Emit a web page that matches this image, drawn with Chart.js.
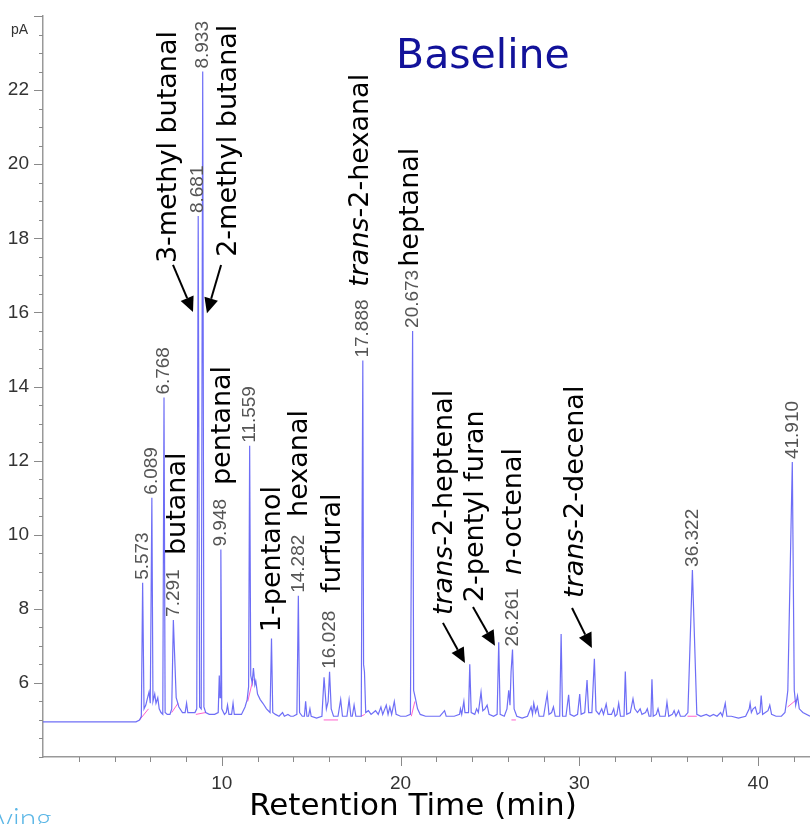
<!DOCTYPE html>
<html>
<head>
<meta charset="utf-8">
<script src="https://cdn.jsdelivr.net/npm/chart.js@4.4.1/dist/chart.umd.min.js"></script>
<style>
html,body{margin:0;padding:0;background:#fff;}
#wrap{width:810px;height:824px;position:relative;}
</style>
</head>
<body>
<div id="wrap"><canvas id="c" width="810" height="824"></canvas></div>
<script>
// ---- Chromatogram trace (retention time, min / signal, pA) ----
const times = [
 0, 5.2, 5.4, 5.5, 5.573, 5.65, 5.75, 5.85, 5.93, 6.0, 6.089, 6.15, 6.25, 6.32, 6.42, 6.5, 6.6, 6.7, 6.768, 6.83,
 6.95, 7.1, 7.2, 7.291, 7.35, 7.45, 7.6, 7.8, 7.95, 8.03, 8.1, 8.3, 8.5, 8.6, 8.681, 8.76, 8.85, 8.933, 9.0, 9.1,
 9.3, 9.6, 9.8, 9.86, 9.9, 9.948, 10.0, 10.15, 10.25, 10.32, 10.4, 10.55, 10.63, 10.7, 10.95, 11.1, 11.3, 11.42, 11.5, 11.559,
 11.62, 11.7, 11.77, 11.85, 11.9, 12.0, 12.15, 12.3, 12.5, 12.7, 12.78, 12.85, 13.0, 13.2, 13.4, 13.5, 13.7, 13.85, 14.0, 14.2,
 14.282, 14.35, 14.5, 14.62, 14.69, 14.76, 14.85, 14.93, 15.0, 15.3, 15.6, 15.72, 15.85, 15.95, 16.028, 16.12, 16.25, 16.5, 16.65, 16.75,
 17.0, 17.12, 17.22, 17.3, 17.4, 17.5, 17.8, 17.888, 17.93, 17.98, 18.05, 18.2, 18.35, 18.6, 18.75, 18.9, 19.0, 19.2, 19.3, 19.4,
 19.5, 19.65, 19.75, 20.0, 20.3, 20.55, 20.673, 20.73, 20.82, 20.95, 21.1, 21.4, 21.8, 22.2, 22.46, 22.55, 23.0, 23.3, 23.35, 23.42,
 23.54, 23.6, 23.8, 23.87, 23.95, 24.15, 24.25, 24.35, 24.5, 24.6, 24.72, 24.84, 24.95, 25.2, 25.4, 25.49, 25.57, 25.8, 25.95, 26.05,
 26.12, 26.18, 26.261, 26.35, 26.5, 26.8, 27.1, 27.3, 27.38, 27.45, 27.55, 27.65, 27.75, 28.0, 28.2, 28.3, 28.45, 28.55, 28.65, 28.9,
 28.98, 29.06, 29.25, 29.4, 29.48, 29.7, 29.9, 30.02, 30.1, 30.3, 30.43, 30.52, 30.7, 30.84, 30.93, 31.1, 31.25, 31.35, 31.5, 31.6,
 31.8, 31.92, 32.0, 32.1, 32.2, 32.3, 32.5, 32.57, 32.65, 32.85, 33.0, 33.1, 33.25, 33.4, 33.5, 33.7, 33.8, 33.9, 34.0, 34.06,
 34.13, 34.3, 34.4, 34.5, 34.8, 34.9, 35.0, 35.2, 35.3, 35.4, 35.55, 35.65, 35.9, 36.07, 36.322, 36.57, 36.8, 37.1, 37.3, 37.5,
 37.7, 37.9, 38.0, 38.16, 38.25, 38.5, 38.9, 39.3, 39.5, 39.55, 39.62, 39.72, 39.84, 39.95, 40.1, 40.17, 40.25, 40.4, 40.55, 40.65,
 40.75, 41.0, 41.3, 41.5, 41.6, 41.66, 41.91, 42.02, 42.1, 42.2, 42.3, 42.5, 42.9
];
const signal = [
 4.95, 4.95, 5.0, 5.1, 8.7, 5.3, 5.4, 5.6, 5.75, 5.45, 11.0, 5.5, 5.7, 5.45, 5.6, 5.3, 5.2, 5.15, 13.7, 5.2,
 5.15, 5.15, 5.3, 7.7, 6.9, 5.6, 5.35, 5.2, 5.2, 5.45, 5.2, 5.2, 5.2, 5.3, 18.6, 5.35, 5.3, 22.5, 5.35, 5.2,
 5.15, 5.15, 5.2, 6.2, 5.6, 9.6, 5.3, 5.15, 5.2, 5.4, 5.15, 5.15, 5.45, 5.15, 5.15, 5.15, 5.35, 5.55, 5.9, 12.4,
 6.2, 6.0, 6.4, 5.95, 6.05, 5.7, 5.55, 5.45, 5.3, 5.2, 7.2, 5.2, 5.15, 5.1, 5.2, 5.1, 5.15, 5.1, 5.1, 5.15,
 8.35, 5.2, 5.1, 5.1, 5.5, 5.1, 5.1, 5.3, 5.1, 5.05, 5.1, 6.15, 5.3, 5.5, 6.3, 5.3, 5.1, 5.1, 5.55, 5.1,
 5.1, 5.55, 5.1, 5.1, 5.4, 5.1, 5.1, 14.7, 6.5, 6.3, 5.2, 5.25, 5.15, 5.25, 5.15, 5.35, 5.15, 5.4, 5.15, 5.35,
 5.15, 5.5, 5.15, 5.1, 5.1, 5.15, 15.5, 5.8, 5.6, 5.3, 5.15, 5.1, 5.1, 5.1, 5.25, 5.1, 5.1, 5.15, 5.3, 5.15,
 5.5, 5.2, 5.2, 6.5, 5.2, 5.15, 5.3, 5.2, 5.75, 5.25, 5.3, 5.4, 5.15, 5.1, 5.15, 7.1, 5.15, 5.1, 5.3, 5.8,
 5.4, 6.3, 6.9, 5.3, 5.1, 5.05, 5.1, 5.35, 5.15, 5.45, 5.2, 5.35, 5.1, 5.1, 5.7, 5.15, 5.2, 5.35, 5.1, 5.1,
 7.32, 5.1, 5.1, 5.68, 5.15, 5.1, 5.15, 5.7, 5.15, 5.2, 6.08, 5.2, 5.2, 6.65, 5.25, 5.15, 5.3, 5.15, 5.43, 5.15,
 5.15, 5.3, 5.1, 5.15, 5.45, 5.1, 5.1, 6.31, 5.15, 5.2, 5.57, 5.3, 5.2, 5.3, 5.15, 5.2, 5.3, 5.1, 5.1, 6.1,
 5.1, 5.15, 5.3, 5.1, 5.1, 5.48, 5.1, 5.15, 5.25, 5.1, 5.25, 5.1, 5.1, 5.2, 9.05, 5.15, 5.1, 5.15, 5.1, 5.15,
 5.1, 5.2, 5.1, 5.45, 5.1, 5.1, 5.05, 5.1, 5.3, 5.45, 5.2, 5.3, 5.35, 5.15, 5.2, 5.66, 5.15, 5.2, 5.25, 5.4,
 5.15, 5.1, 5.1, 5.2, 5.55, 5.8, 11.96, 5.8, 5.4, 5.65, 5.3, 5.2, 5.1
];

// ---- Integration baselines (pink), null = break ----
const baseT = [5.4, 5.9, null, 7.2, 7.55, null, 8.55, 9.1, null, 11.45, 11.75, null, 15.7, 16.5, null, 17.8, 18.0, null, 20.6, 20.8, null, 26.2, 26.45, null, 36.05, 36.57, null, 41.65, 42.15];
const baseY = [5.0, 5.3, null, 5.2, 5.45, null, 5.15, 5.2, null, 5.5, 6.1, null, 5.0, 5.0, null, 5.1, 5.15, null, 5.1, 5.5, null, 5.0, 5.0, null, 5.1, 5.1, null, 5.35, 5.55];

// ---- Retention-time peak labels ----
const rtLabels = ['5.573','6.089','6.768','7.291','8.681','8.933','9.948','11.559','14.282','16.028','17.888','20.673','26.261','36.322','41.910'];
const rtApexTimes = [5.573, 6.089, 6.768, 7.291, 8.681, 8.933, 9.948, 11.559, 14.282, 16.028, 17.888, 20.673, 26.261, 36.322, 41.91];

// ---- Compound annotations (text baseline time, start level) ----
const compoundNames = ['3-methyl butanal','2-methyl butanal','butanal','pentanal','1-pentanol','hexanal','furfural','trans-2-hexanal','heptanal','trans-2-heptenal','2-pentyl furan','n-octenal','trans-2-decenal'];
const compoundItalic = ['','','','','','','','trans','','trans','','n','trans'];
const compoundT = [7.43, 10.79, 7.94, 10.46, 13.26, 14.77, 16.61, 18.18, 20.97, 22.87, 24.61, 26.73, 30.2];
const compoundV = [17.33, 17.5, 9.45, 11.34, 7.37, 10.48, 8.43, 16.69, 17.23, 7.83, 8.18, 8.91, 8.29];

// ---- Arrows (from time, from level, to time, to level) ----
const arrowT1 = [7.27, 9.96, 22.37, 24.05, 29.59];
const arrowV1 = [17.28, 17.28, 7.62, 8.05, 8.02];
const arrowT2 = [8.39, 9.17, 23.6, 25.28, 30.7];
const arrowV2 = [16.01, 15.98, 6.54, 7.0, 6.94];

const yLabelValues = [6, 8, 10, 12, 14, 16, 18, 20, 22];
const xLabelValues = [10, 20, 30, 40];

const handFont = '"Comic Sans MS", "DejaVu Sans", sans-serif';

const overlay = {
  id: 'overlay',
  afterDatasetsDraw(chart) {
    const ctx = chart.ctx;
    const xs = chart.scales.x, ys = chart.scales.y;
    const area = chart.chartArea;
    ctx.save();
    // axis tick marks
    ctx.strokeStyle = '#8a8a8a';
    ctx.lineWidth = 1;
    for (let v = 4; v <= 24.001; v += 0.5) {
      const y = Math.round(ys.getPixelForValue(v)) + 0.5;
      const major = yLabelValues.includes(v) || v === 24;
      ctx.beginPath();
      ctx.moveTo(area.left, y);
      ctx.lineTo(area.left - (major ? 9 : 4), y);
      ctx.stroke();
    }
    for (let v = 2; v <= 42; v += 2) {
      const x = Math.round(xs.getPixelForValue(v)) + 0.5;
      const major = xLabelValues.includes(v);
      ctx.beginPath();
      ctx.moveTo(x, area.bottom);
      ctx.lineTo(x, area.bottom + (major ? 9 : 5));
      ctx.stroke();
    }
    // pA unit
    ctx.fillStyle = '#333';
    ctx.font = '14px "Liberation Sans Narrow", "Liberation Sans", Arial, sans-serif';
    ctx.textAlign = 'right';
    ctx.textBaseline = 'middle';
    ctx.fillText('pA', 28, ys.getPixelForValue(23.62));

    // retention-time labels
    ctx.fillStyle = '#555';
    ctx.font = '19px "Liberation Sans", Arial, sans-serif';
    rtLabels.forEach((lab, i) => {
      const t = rtApexTimes[i];
      const idx = times.findIndex(tt => Math.abs(tt - t) < 1e-6);
      const v = signal[idx];
      const x = xs.getPixelForValue(t);
      const y = ys.getPixelForValue(v) - 3;
      ctx.save();
      ctx.translate(x, y);
      ctx.rotate(-Math.PI / 2);
      ctx.textAlign = 'left';
      ctx.textBaseline = 'middle';
      ctx.fillText(lab, 0, 0);
      ctx.restore();
    });

    // compound names
    ctx.fillStyle = '#000';
    compoundNames.forEach((name, i) => {
      const x = xs.getPixelForValue(compoundT[i]);
      const y = ys.getPixelForValue(compoundV[i]);
      ctx.save();
      ctx.translate(x, y);
      ctx.rotate(-Math.PI / 2);
      ctx.textAlign = 'left';
      ctx.textBaseline = 'alphabetic';
      let cx = 0;
      const it = compoundItalic[i];
      let rest = name;
      if (it && name.startsWith(it)) {
        ctx.font = 'oblique 27px ' + handFont;
        ctx.fillText(it, cx, 0);
        cx += ctx.measureText(it).width;
        rest = name.slice(it.length);
      }
      ctx.font = '27px ' + handFont;
      ctx.fillText(rest, cx, 0);
      ctx.restore();
    });

    // arrows
    ctx.strokeStyle = '#000';
    ctx.fillStyle = '#000';
    ctx.lineWidth = 2;
    arrowT1.forEach((t1, i) => {
      const x1 = xs.getPixelForValue(t1), y1 = ys.getPixelForValue(arrowV1[i]);
      const x2 = xs.getPixelForValue(arrowT2[i]), y2 = ys.getPixelForValue(arrowV2[i]);
      const ang = Math.atan2(y2 - y1, x2 - x1);
      const hl = 15, hw = 7;
      const bx = x2 - hl * Math.cos(ang), by = y2 - hl * Math.sin(ang);
      ctx.beginPath();
      ctx.moveTo(x1, y1);
      ctx.lineTo(bx, by);
      ctx.stroke();
      ctx.beginPath();
      ctx.moveTo(x2, y2);
      ctx.lineTo(bx + hw * Math.sin(ang), by - hw * Math.cos(ang));
      ctx.lineTo(bx - hw * Math.sin(ang), by + hw * Math.cos(ang));
      ctx.closePath();
      ctx.fill();
    });

    // title
    ctx.fillStyle = '#12129a';
    ctx.font = '41px ' + handFont;
    ctx.textAlign = 'left';
    ctx.textBaseline = 'alphabetic';
    ctx.fillText('Baseline', 396, 68);

    // x axis title
    ctx.fillStyle = '#000';
    ctx.font = '31px ' + handFont;
    ctx.textAlign = 'center';
    ctx.fillText('Retention Time (min)', 413, 815);

    // watermark fragment
    ctx.fillStyle = '#5ab6e6';
    ctx.font = '300 30px Lato, "Open Sans", sans-serif';
    ctx.textAlign = 'left';
    ctx.fillText('ving', -2, 829);
    ctx.restore();
  }
};

new Chart(document.getElementById('c'), {
  type: 'line',
  data: {
    datasets: [
      {
        data: times.map((t, i) => ({ x: t, y: signal[i] })),
        borderColor: 'rgba(85,85,245,0.85)',
        borderWidth: 1.2,
        pointRadius: 0,
        tension: 0,
        fill: false
      },
      {
        data: baseT.map((t, i) => ({ x: t, y: baseY[i] })),
        borderColor: 'rgba(255,80,200,0.9)',
        borderWidth: 1,
        pointRadius: 0,
        spanGaps: false,
        fill: false
      }
    ]
  },
  options: {
    responsive: false,
    animation: false,
    layout: { padding: { top: 16, right: 0, left: 0, bottom: 0 } },
    plugins: { legend: { display: false }, tooltip: { enabled: false } },
    scales: {
      x: {
        type: 'linear',
        min: 0,
        max: 42.9,
        afterFit: s => { s.height = 67; s.paddingLeft = 0; s.paddingRight = 0; },
        afterBuildTicks: s => { s.ticks = xLabelValues.map(v => ({ value: v })); },
        ticks: {
          autoSkip: false,
          maxRotation: 0,
          padding: 15,
          color: '#333',
          font: { family: '"Liberation Sans Narrow", "Liberation Sans", Arial, sans-serif', size: 19 },
          callback: v => String(v)
        },
        grid: { display: true, drawOnChartArea: false, drawTicks: false },
        border: { display: true, color: '#999', width: 1.5 }
      },
      y: {
        min: 4,
        max: 24,
        afterFit: s => { s.width = 43; s.paddingTop = 0; s.paddingBottom = 0; },
        afterBuildTicks: s => { s.ticks = yLabelValues.map(v => ({ value: v })); },
        ticks: {
          autoSkip: false,
          padding: 14,
          color: '#333',
          font: { family: '"Liberation Sans Narrow", "Liberation Sans", Arial, sans-serif', size: 19 },
          callback: v => String(v)
        },
        grid: { display: true, drawOnChartArea: false, drawTicks: false },
        border: { display: true, color: '#999', width: 1.5 }
      }
    }
  },
  plugins: [overlay]
});
</script>
</body>
</html>
